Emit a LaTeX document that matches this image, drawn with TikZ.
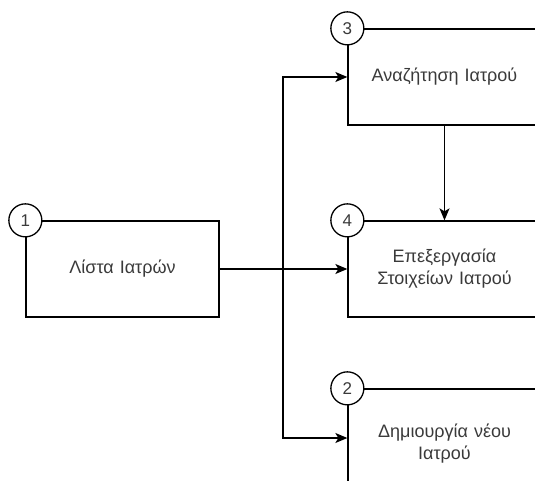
\documentclass[tikz,border=0pt]{standalone}
\usepackage{fontspec}
\setmainfont{Liberation Sans}
\usetikzlibrary{arrows.meta}
\definecolor{txtgray}{HTML}{3A3A3A}
\begin{document}
\begin{tikzpicture}[x=1pt, y=-1pt, line width=1.3pt,
    proc/.style={draw, minimum width=193pt, minimum height=96pt, text width=185pt,
        align=center, inner sep=0pt, text=txtgray, font=\fontsize{18}{22}\selectfont},
    num/.style={draw, circle, fill=white, minimum size=33pt, inner sep=0pt,
        text=txtgray, font=\fontsize{17}{17}\selectfont},
    flow/.style={-{Stealth[length=12pt, width=10pt, inset=3pt]}}]
    \useasboundingbox (0, 0) rectangle (535, 481);
    \clip (0, 0) rectangle (535, 481);

    \node[proc] (list) at (122.5, 269) {Λίστα Ιατρών};
    \node[proc] (search) at (444.5, 77) {Αναζήτηση Ιατρού};
    \node[proc] (edit) at (444.5, 269) {Επεξεργασία\\Στοιχείων Ιατρού};
    \node[proc, minimum height=110pt] (create) at (444.5, 444) {Δημιουργία νέου\\Ιατρού};

    \coordinate (split) at (283, 269);
    \draw[flow] (list.east) -- (edit.west);
    \draw[flow] (split) |- (search.west);
    \draw[flow] (split) |- ([yshift=6pt]create.west);
    \draw[flow] (search.south) -- (edit.north);

    \node[num] (n1) at (list.north west) {1};
    \node[num] (n3) at (search.north west) {3};
    \node[num] (n4) at (edit.north west) {4};
    \node[num] (n2) at (create.north west) {2};
\end{tikzpicture}
\end{document}
